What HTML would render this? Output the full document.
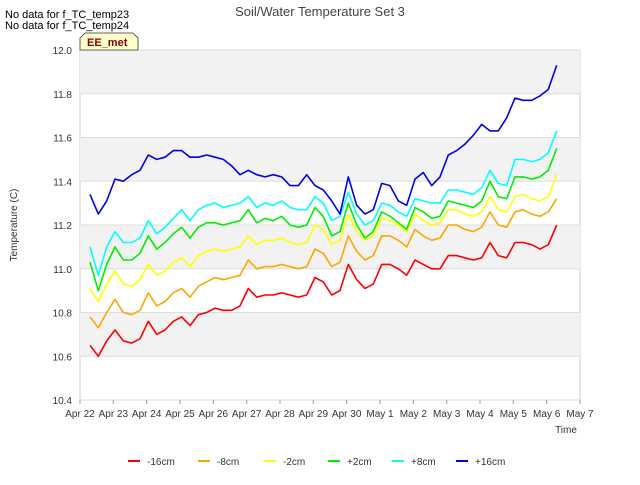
<!DOCTYPE html>
<html><head><meta charset="utf-8"><style>
body{margin:0;background:#fff;font-family:"Liberation Sans",sans-serif}
svg text{font-family:"Liberation Sans",sans-serif}
</style></head><body>
<svg id="chart" width="640" height="480" xmlns="http://www.w3.org/2000/svg">
<rect width="640" height="480" fill="#fff"/>
<text x="320" y="16" text-anchor="middle" font-size="13" fill="#444">Soil/Water Temperature Set 3</text>
<text x="5" y="18" font-size="11" fill="#000">No data for f_TC_temp23</text>
<text x="5" y="29" font-size="11" fill="#000">No data for f_TC_temp24</text>
<g id="plot"></g>
<g>
<path d="M80,50 L80,38 L85,33 L133,33 L138,38 L138,50 Z" fill="#ffffcc" stroke="#333" stroke-width="0.8"/>
<text x="87" y="46" font-size="11" font-weight="bold" fill="#8b0000">EE_met</text>
</g>
<text transform="translate(17,225) rotate(-90)" text-anchor="middle" font-size="10" fill="#333">Temperature (C)</text>
<text x="566" y="433" text-anchor="middle" font-size="10" fill="#333">Time</text>
<g id="legend"></g>
</svg>
<script>
const xTicks=["Apr 22","Apr 23","Apr 24","Apr 25","Apr 26","Apr 27","Apr 28","Apr 29","Apr 30","May 1","May 2","May 3","May 4","May 5","May 6","May 7"];
const yTicks=[10.4,10.6,10.8,11.0,11.2,11.4,11.6,11.8,12.0];
const seriesNames=["-16cm","-8cm","-2cm","+2cm","+8cm","+16cm"];
const seriesColors=["#ff0000","#ffa500","#ffff00","#00ee00","#00ffff","#0000ee"];
const tStart=0.3, tStep=0.25;
const s16n=[10.65,10.60,10.67,10.72,10.67,10.66,10.68,10.76,10.70,10.72,10.76,10.78,10.74,10.79,10.80,10.82,10.81,10.81,10.83,10.91,10.87,10.88,10.88,10.89,10.88,10.87,10.88,10.96,10.94,10.88,10.90,11.02,10.95,10.91,10.93,11.02,11.02,11.00,10.97,11.04,11.02,11.00,11.00,11.06,11.06,11.05,11.04,11.05,11.12,11.06,11.05,11.12,11.12,11.11,11.09,11.11,11.20];
const s8n=[10.78,10.73,10.80,10.86,10.80,10.79,10.81,10.89,10.83,10.85,10.89,10.91,10.87,10.92,10.94,10.96,10.95,10.96,10.97,11.04,11.00,11.01,11.01,11.02,11.01,11.00,11.01,11.09,11.07,11.01,11.03,11.15,11.08,11.04,11.06,11.15,11.15,11.13,11.10,11.18,11.15,11.13,11.14,11.20,11.20,11.18,11.17,11.19,11.26,11.20,11.19,11.26,11.27,11.25,11.24,11.26,11.32];
const s2n=[10.91,10.85,10.93,10.99,10.93,10.92,10.95,11.02,10.97,10.99,11.03,11.05,11.01,11.06,11.08,11.09,11.08,11.09,11.10,11.15,11.11,11.13,11.13,11.14,11.12,11.11,11.12,11.20,11.18,11.11,11.13,11.25,11.17,11.13,11.15,11.23,11.22,11.20,11.17,11.25,11.22,11.20,11.21,11.27,11.27,11.25,11.24,11.26,11.33,11.27,11.26,11.33,11.34,11.32,11.31,11.33,11.43];
const s2p=[11.03,10.90,11.02,11.10,11.04,11.04,11.07,11.15,11.09,11.12,11.16,11.19,11.14,11.19,11.21,11.21,11.20,11.21,11.22,11.27,11.21,11.23,11.22,11.24,11.20,11.19,11.20,11.28,11.24,11.15,11.17,11.30,11.20,11.14,11.17,11.26,11.24,11.21,11.18,11.28,11.26,11.23,11.24,11.31,11.30,11.29,11.28,11.31,11.40,11.33,11.32,11.42,11.42,11.41,11.42,11.45,11.55];
const s8p=[11.10,10.97,11.10,11.17,11.12,11.12,11.14,11.22,11.16,11.19,11.23,11.27,11.22,11.27,11.29,11.30,11.28,11.29,11.30,11.33,11.28,11.30,11.29,11.31,11.28,11.27,11.27,11.33,11.30,11.22,11.24,11.35,11.25,11.20,11.22,11.30,11.29,11.26,11.24,11.32,11.31,11.30,11.30,11.36,11.36,11.35,11.34,11.37,11.45,11.39,11.38,11.50,11.50,11.49,11.50,11.53,11.63];
const s16p=[11.34,11.25,11.31,11.41,11.40,11.43,11.45,11.52,11.50,11.51,11.54,11.54,11.51,11.51,11.52,11.51,11.50,11.47,11.43,11.45,11.43,11.42,11.43,11.42,11.38,11.38,11.43,11.38,11.36,11.31,11.25,11.42,11.29,11.25,11.27,11.39,11.38,11.31,11.29,11.41,11.44,11.38,11.42,11.52,11.54,11.57,11.61,11.66,11.63,11.63,11.69,11.78,11.77,11.77,11.79,11.82,11.93];
const allSeries=[s16n,s8n,s2n,s2p,s8p,s16p];

const NS="http://www.w3.org/2000/svg";
const L=80,R=580,T=50,B=400,yMin=10.4,yMax=12.0;
const xs=t=>L+(R-L)*t/(xTicks.length-1);
const ys=v=>B-(B-T)*(v-yMin)/(yMax-yMin);
const plot=document.getElementById('plot');
function mk(tag,attrs,parent){const e=document.createElementNS(NS,tag);for(const k in attrs)e.setAttribute(k,attrs[k]);parent.appendChild(e);return e;}
const bg=mk('rect',{x:L,y:T,width:R-L,height:B-T,fill:'#fff',stroke:'#ccc'},plot);


for(let i=0;i<yTicks.length-1;i++){
  if(i%2===1){const b=mk('rect',{x:L,y:ys(yTicks[i+1]),width:R-L,height:ys(yTicks[i])-ys(yTicks[i+1]),fill:'#f2f2f2'},plot);
  
  }
}
yTicks.forEach(v=>{
  const g=mk('line',{x1:L,x2:R,y1:ys(v),y2:ys(v),stroke:'#ddd'},plot);
  
  
  const t=mk('text',{x:L-8,y:ys(v)+4,'text-anchor':'end','font-size':10,fill:'#333'},plot);
  t.textContent=v.toFixed(1);
  
  
});
xTicks.forEach((lab,i)=>{
  mk('line',{x1:xs(i),x2:xs(i),y1:B,y2:B+4,stroke:'#999'},plot);
  const t=mk('text',{x:xs(i),y:B+17,'text-anchor':'middle','font-size':10,fill:'#333'},plot);
  t.textContent=lab;
  
  
});
allSeries.forEach((arr,si)=>{
  const d=arr.map((v,i)=>(i?'L':'M')+xs(tStart+i*tStep).toFixed(1)+','+ys(v).toFixed(1)).join(' ');
  const p=mk('path',{d:d,fill:'none',stroke:seriesColors[si],'stroke-width':1.6,'stroke-linejoin':'round'},plot);
  
  
});
const leg=document.getElementById('legend');
const legX=[128,198,264,328,392,456];
seriesNames.forEach((n,i)=>{
  const g=mk('g',{},leg);
  
  
  mk('line',{x1:legX[i],x2:legX[i]+12,y1:461,y2:461,stroke:seriesColors[i],'stroke-width':2},g);
  const t=mk('text',{x:legX[i]+19,y:465,'font-size':10,fill:'#333'},g);
  t.textContent=n;
});
</script>
</body></html>
